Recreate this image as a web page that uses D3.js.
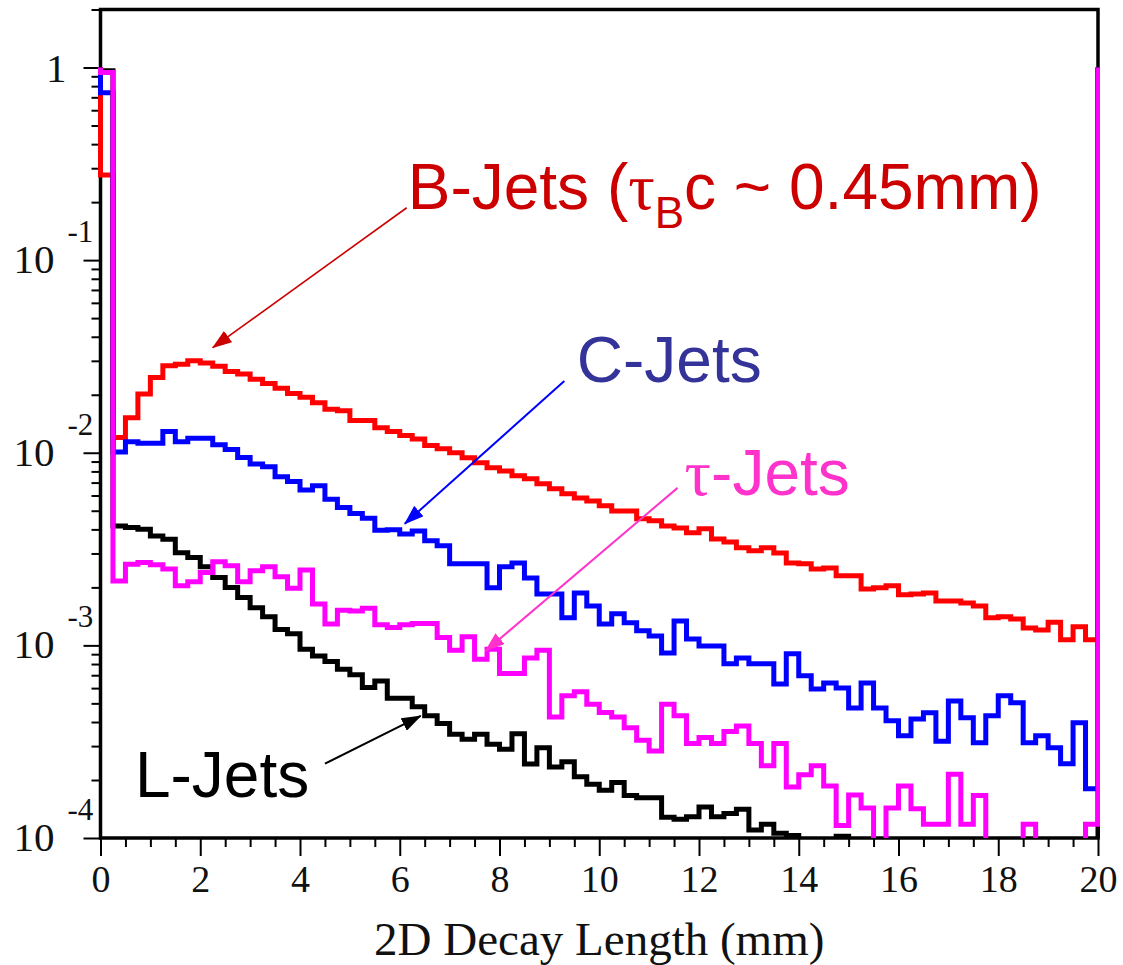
<!DOCTYPE html>
<html>
<head>
<meta charset="utf-8">
<script src="https://cdn.jsdelivr.net/npm/d3@7"></script>
<style>
  html, body { margin: 0; padding: 0; background: #fff; }
  svg { display: block; }
</style>
</head>
<body>
<svg id="chart" width="1123" height="965"></svg>
<script>
// ---- Data: normalised 2D decay length distributions, 0.25 mm bins from 0 to 20 mm ----
const binWidth = 0.25;   // mm
const xMax = 20;         // mm

const bJets = [
  0.277, 0.0120, 0.0152, 0.0202, 0.0246, 0.0283, 0.0288, 0.0300, 0.0292, 0.0281,
  0.0264, 0.0256, 0.0241, 0.0229, 0.0216, 0.0203, 0.0194, 0.0182, 0.0168, 0.0165,
  0.0147, 0.0147, 0.0135, 0.0129, 0.0123, 0.0118, 0.0109, 0.0105, 0.0100, 0.00941,
  0.00887, 0.00835, 0.00805, 0.00759, 0.00732, 0.00690, 0.00650, 0.00612, 0.00583, 0.00562,
  0.00530, 0.00499, 0.00499, 0.00454, 0.00443, 0.00417, 0.00407, 0.00384, 0.00403, 0.00357,
  0.00344, 0.00321, 0.00310, 0.00321, 0.00302, 0.00268, 0.00265, 0.00249, 0.00252, 0.00230,
  0.00230, 0.00196, 0.00199, 0.00204, 0.00183, 0.00185, 0.00187, 0.00170, 0.00170, 0.00166,
  0.00160, 0.00139, 0.00141, 0.00137, 0.00123, 0.00120, 0.00132, 0.00107, 0.00125, 0.00107
];

const cJets = [
  0.739, 0.0101, 0.0114, 0.0112, 0.0112, 0.0129, 0.0114, 0.0119, 0.0119, 0.0110,
  0.0104, 0.00944, 0.00873, 0.00845, 0.00750, 0.00709, 0.00640, 0.00673, 0.00574, 0.00519,
  0.00483, 0.00457, 0.00396, 0.00398, 0.00379, 0.00393, 0.00349, 0.00329, 0.00265, 0.00265,
  0.00265, 0.00199, 0.00256, 0.00268, 0.00224, 0.00185, 0.00185, 0.00139, 0.00187, 0.00160,
  0.00129, 0.00146, 0.00131, 0.00119, 0.00112, 0.000914, 0.00134, 0.00108, 0.000994, 0.000994,
  0.000802, 0.000861, 0.000802, 0.000802, 0.000631, 0.000904, 0.000695, 0.000594, 0.000638, 0.000601,
  0.000473, 0.000638, 0.000473, 0.000406, 0.000339, 0.000415, 0.000447, 0.000318, 0.000515, 0.000421,
  0.000312, 0.000431, 0.000547, 0.000503, 0.000312, 0.000339, 0.000294, 0.000243, 0.000396, 0.000180
];

const tauJets = [
  0.942, 0.00216, 0.00264, 0.00269, 0.00262, 0.00249, 0.00204, 0.00214, 0.00239, 0.00272,
  0.00259, 0.00214, 0.00244, 0.00256, 0.00227, 0.00198, 0.00246, 0.00164, 0.00129, 0.00152,
  0.00151, 0.00156, 0.00128, 0.00124, 0.00128, 0.00130, 0.00130, 0.00110, 0.000944, 0.00111,
  0.000848, 0.000955, 0.000714, 0.000714, 0.000859, 0.000944, 0.000425, 0.000547, 0.000575, 0.000495,
  0.000448, 0.000425, 0.000374, 0.000322, 0.000283, 0.000495, 0.000431, 0.000309, 0.000332, 0.000309,
  0.000357, 0.000382, 0.000309, 0.000237, 0.000309, 0.000184, 0.000213, 0.000237, 0.000186, 0.000116,
  0.000167, 0.000143, 0, 0.000143, 0.000186, 0.000142, 0.000118, 0.000118, 0.000214, 0.000118,
  0.000166, 0, 0, 0, 0.000118, 0, 0, 0, 0, 0.000118
];

const lJets = [
  0.961, 0.00417, 0.00409, 0.00401, 0.00370, 0.00356, 0.00303, 0.00286, 0.00256, 0.00225,
  0.00200, 0.00177, 0.00157, 0.00141, 0.00121, 0.00115, 0.000955, 0.000882, 0.000824, 0.000752,
  0.000703, 0.000604, 0.000654, 0.000532, 0.000532, 0.000480, 0.000431, 0.000393, 0.000346, 0.000326,
  0.000346, 0.000307, 0.000289, 0.000348, 0.000242, 0.000294, 0.000234, 0.000249, 0.000208, 0.000190,
  0.000177, 0.000194, 0.000166, 0.000162, 0.000162, 0.000128, 0.000125, 0.000129, 0.000145, 0.000129,
  0.000134, 0.000141, 0.000110, 0.000118, 0.000106, 0.000103, 0, 0, 0, 0.000102,
  0, 0, 0, 0, 0, 0, 0, 0, 0, 0,
  0, 0, 0, 0, 0, 0, 0, 0, 0, 0
];

// Level that each histogram outline starts from and returns to at the range edges
const edgeLevel = 1;

const xTickLabels = ["0", "2", "4", "6", "8", "10", "12", "14", "16", "18", "20"];
const yDecadeExponents = [0, -1, -2, -3, -4];
const xAxisTitle = "2D Decay Length (mm)";

// ---- Layout ----
const svg = d3.select("#chart");
const plot = { left: 100.5, right: 1098, top: 9.5, bottom: 838 };

const x = d3.scaleLinear().domain([0, xMax]).range([plot.left, plot.right]);
const y = d3.scaleLog().domain([1e-4, 2]).range([plot.bottom, plot.top]);
const belowFloor = 1e-5; // empty bins fall off the bottom of the frame

svg.append("rect").attr("width", 1123).attr("height", 965).attr("fill", "#fff");

svg.append("defs").append("clipPath").attr("id", "plot-clip")
  .append("rect")
  .attr("x", plot.left - 3).attr("y", plot.top)
  .attr("width", plot.right - plot.left + 5)
  .attr("height", plot.bottom - plot.top);

// ---- Frame ----
svg.append("rect")
  .attr("x", plot.left).attr("y", plot.top)
  .attr("width", plot.right - plot.left).attr("height", plot.bottom - plot.top)
  .attr("fill", "none").attr("stroke", "#000").attr("stroke-width", 3.5);

// ---- X axis ----
const xMajor = xTickLabels.map(Number);
const xMinor = d3.range(0, xMax + 1e-9, 0.5).filter(v => Math.abs(v % 2) > 1e-9);

const xAxisMinor = svg.append("g").attr("transform", `translate(0,${plot.bottom})`)
  .call(d3.axisBottom(x).tickValues(xMinor).tickSize(9).tickFormat(""));
const xAxisMajor = svg.append("g").attr("transform", `translate(0,${plot.bottom})`)
  .call(d3.axisBottom(x).tickValues(xMajor).tickSize(18).tickFormat((d, i) => xTickLabels[i]));

[xAxisMinor, xAxisMajor].forEach(g => {
  g.select(".domain").remove();
  g.selectAll(".tick line").attr("stroke", "#000").attr("stroke-width", 2);
});
xAxisMajor.selectAll(".tick text")
  .attr("y", 54).attr("dy", 0)
  .attr("font-family", "'Liberation Serif', 'Times New Roman', serif")
  .attr("font-size", 38).attr("fill", "#111");

svg.append("text")
  .attr("x", (plot.left + plot.right) / 2).attr("y", 955)
  .attr("text-anchor", "middle")
  .attr("font-family", "'Liberation Serif', 'Times New Roman', serif")
  .attr("font-size", 47).attr("fill", "#111")
  .text(xAxisTitle);

// ---- Y axis (log) ----
const yMajor = yDecadeExponents.map(e => Math.pow(10, e));
const yMinor = [];
yDecadeExponents.forEach(e => {
  d3.range(2, 10).forEach(m => {
    const v = m * Math.pow(10, e);
    if (v <= 2 + 1e-9) yMinor.push(v);
  });
});

const yAxisMinor = svg.append("g").attr("transform", `translate(${plot.left},0)`)
  .call(d3.axisLeft(y).tickValues(yMinor).tickSize(9).tickFormat(""));
const yAxisMajor = svg.append("g").attr("transform", `translate(${plot.left},0)`)
  .call(d3.axisLeft(y).tickValues(yMajor).tickSize(17).tickFormat(""));

[yAxisMinor, yAxisMajor].forEach(g => {
  g.select(".domain").remove();
  g.selectAll(".tick line").attr("stroke", "#000").attr("stroke-width", 2);
});

const serif = "'Liberation Serif', 'Times New Roman', serif";
yDecadeExponents.forEach(e => {
  const yy = y(Math.pow(10, e));
  if (e === 0) {
    svg.append("text")
      .attr("x", plot.left - 34).attr("y", yy + 15)
      .attr("text-anchor", "end")
      .attr("font-family", serif).attr("font-size", 41).attr("fill", "#111")
      .text("1");
  } else {
    svg.append("text")
      .attr("x", plot.left - 46).attr("y", yy + 13)
      .attr("text-anchor", "end")
      .attr("font-family", serif).attr("font-size", 41).attr("fill", "#111")
      .text("10");
    svg.append("text")
      .attr("x", plot.left - 33).attr("y", yy - 18)
      .attr("text-anchor", "start")
      .attr("font-family", serif).attr("font-size", 31).attr("fill", "#111")
      .text(String(e));
  }
});

// ---- Histograms ----
function outline(values) {
  const pts = [[0, edgeLevel]];
  values.forEach((v, i) => {
    const lo = i * binWidth, hi = (i + 1) * binWidth;
    pts.push([lo, v], [hi, v]);
  });
  pts.push([xMax, edgeLevel]);
  return d3.line()
    .x(d => x(d[0]))
    .y(d => y(Math.max(d[1], belowFloor)))(pts);
}

const series = [
  { name: "B-Jets", values: bJets, color: "#ff0000" },
  { name: "C-Jets", values: cJets, color: "#0000ff" },
  { name: "L-Jets", values: lJets, color: "#000000" },
  { name: "tau-Jets", values: tauJets, color: "#ff00ff" }
];

const hist = svg.append("g").attr("clip-path", "url(#plot-clip)");
series.forEach(s => {
  hist.append("path")
    .attr("d", outline(s.values))
    .attr("fill", "none")
    .attr("stroke", s.color)
    .attr("stroke-width", 5)
    .attr("stroke-linejoin", "miter");
});

// ---- Annotations ----
const sans = "'Liberation Sans', Arial, Helvetica, sans-serif";
const defs = svg.select("defs");
const arrows = [
  { id: "a-b", color: "#cc0000", width: 1.6, from: [6.14, 0.187], to: [2.25, 0.0351] },
  { id: "a-c", color: "#0000ff", width: 2,   from: [9.30, 0.0236], to: [6.10, 0.00428] },
  { id: "a-t", color: "#ff33cc", width: 2,   from: [11.57, 0.00657], to: [7.72, 0.000936] },
  { id: "a-l", color: "#000000", width: 2,   from: [4.50, 0.000243], to: [6.42, 0.000430] }
];
arrows.forEach(a => {
  defs.append("marker")
    .attr("id", a.id)
    .attr("markerUnits", "userSpaceOnUse")
    .attr("markerWidth", 20).attr("markerHeight", 14)
    .attr("refX", 19).attr("refY", 7)
    .attr("orient", "auto")
    .append("path").attr("d", "M0,0 L20,7 L0,14 Z").attr("fill", a.color);
  svg.append("line")
    .attr("x1", x(a.from[0])).attr("y1", y(a.from[1]))
    .attr("x2", x(a.to[0])).attr("y2", y(a.to[1]))
    .attr("stroke", a.color).attr("stroke-width", a.width)
    .attr("marker-end", `url(#${a.id})`);
});

const labelSize = 64;
// B-Jets label with subscripted lifetime symbol
const bLabel = svg.append("text")
  .attr("x", x(6.16)).attr("y", y(0.1846))
  .attr("font-family", sans).attr("font-size", labelSize).attr("fill", "#cc0000");
bLabel.append("tspan").text("B-Jets (");
bLabel.append("tspan").attr("font-family", serif).attr("font-size", 66).text("\u03c4");
bLabel.append("tspan").attr("dy", 19).attr("font-size", 44).text("B");
bLabel.append("tspan").attr("dy", -19).text("c ~ 0.45mm)");

svg.append("text")
  .attr("x", x(9.55)).attr("y", y(0.0233))
  .attr("font-family", sans).attr("font-size", labelSize).attr("fill", "#333399")
  .text("C-Jets");

const tLabel = svg.append("text")
  .attr("x", x(11.71)).attr("y", y(0.00604))
  .attr("font-family", sans).attr("font-size", labelSize).attr("fill", "#ff33cc");
tLabel.append("tspan").attr("font-family", serif).attr("font-size", 66).text("\u03c4");
tLabel.append("tspan").text("-Jets");

svg.append("text")
  .attr("x", x(0.69)).attr("y", y(0.000163))
  .attr("font-family", sans).attr("font-size", labelSize).attr("fill", "#000")
  .text("L-Jets");
</script>
</body>
</html>
